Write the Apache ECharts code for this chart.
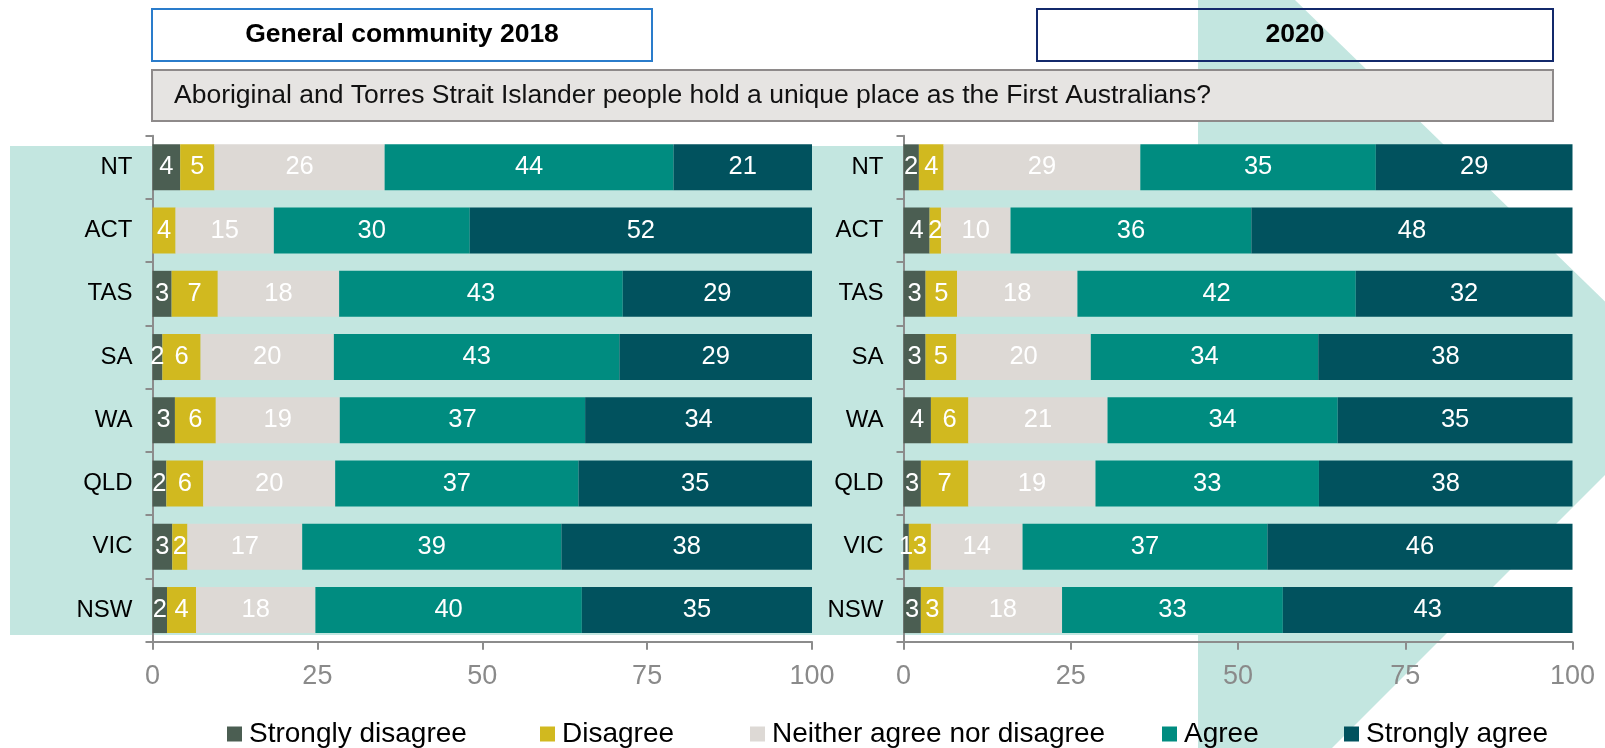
<!DOCTYPE html>
<html>
<head>
<meta charset="utf-8">
<script src="https://cdn.jsdelivr.net/npm/echarts@6/dist/echarts.min.js"></script>
<style>
html,body{margin:0;padding:0;background:#fff;}
#chart{width:1605px;height:748px;}
</style>
</head>
<body>
<div id="chart"></div>
<script>
const categories = ['NT','ACT','TAS','SA','WA','QLD','VIC','NSW'];
const seriesNames = ['Strongly disagree','Disagree','Neither agree nor disagree','Agree','Strongly agree'];
const xTicks = [0, 25, 50, 75, 100];
const panelTitles = ['General community 2018', '2020'];
const question = 'Aboriginal and Torres Strait Islander people hold a unique place as the First Australians?';

// 2018 (percent, bar widths; labels are rounded)
const stronglyDisagree2018 = [4.2, 0, 2.9, 1.5, 3.4, 2.1, 3.0, 2.2];
const disagree2018         = [5.2, 3.5, 7.0, 5.8, 6.2, 5.6, 2.3, 4.4];
const neither2018          = [25.8, 14.9, 18.4, 20.2, 18.8, 20.0, 17.4, 18.1];
const agree2018            = [43.8, 29.7, 43.0, 43.3, 37.2, 36.9, 39.3, 40.4];
const stronglyAgree2018    = [21.0, 51.9, 28.7, 29.2, 34.4, 35.4, 38.0, 34.9];

// 2020
const stronglyDisagree2020 = [2.3, 3.9, 3.3, 3.3, 4.1, 2.6, 0.8, 2.6];
const disagree2020         = [3.7, 1.7, 4.7, 4.6, 5.6, 7.1, 3.3, 3.4];
const neither2020          = [29.4, 10.4, 18.0, 20.1, 20.8, 19.0, 13.7, 17.7];
const agree2020            = [35.2, 36.0, 41.6, 34.0, 34.4, 33.4, 36.6, 33.0];
const stronglyAgree2020    = [29.4, 48.0, 32.4, 38.0, 35.1, 37.9, 45.6, 43.3];

const colors = ['#4b5e52', '#d1b91f', '#ddd9d5', '#008c80', '#01525e'];
const FONT = '"Liberation Sans", Arial, sans-serif';
const TEAL = '#c3e6e0';

const data2018 = [stronglyDisagree2018, disagree2018, neither2018, agree2018, stronglyAgree2018];
const data2020 = [stronglyDisagree2020, disagree2020, neither2020, agree2020, stronglyAgree2020];

const grids = [
  {left: 152.5, top: 135.7, width: 659.5, height: 506},
  {left: 903.5, top: 135.7, width: 669, height: 506}
];

function xAx(i){
  return {
    type: 'value', gridIndex: i, min: 0, max: 100, interval: 25,
    splitLine: {show: false},
    axisLine: {show: true, lineStyle: {color: '#8c8c8c', width: 2}},
    axisTick: {show: true, length: 8, lineStyle: {color: '#8c8c8c', width: 2}},
    axisLabel: {color: '#8a8a8a', fontSize: 27, fontFamily: FONT, margin: 21,
      formatter: v => xTicks.indexOf(v) >= 0 ? String(v) : ''}
  };
}
function yAx(i){
  return {
    type: 'category', gridIndex: i, data: categories, inverse: true,
    axisLine: {show: true, lineStyle: {color: '#8c8c8c', width: 2}},
    axisTick: {show: true, length: 7, lineStyle: {color: '#8c8c8c', width: 2}},
    axisLabel: {color: '#000', fontSize: 24, fontFamily: FONT, margin: 20}
  };
}

const series = [];
[data2018, data2020].forEach((ds, gi) => {
  ds.forEach((arr, si) => {
    series.push({
      name: seriesNames[si], type: 'bar', stack: 'g' + gi,
      xAxisIndex: gi, yAxisIndex: gi, barWidth: 46,
      itemStyle: {color: colors[si]},
      label: {show: true, position: 'inside', color: '#fff', fontSize: 25.5, fontFamily: FONT,
        formatter: p => { const r = Math.round(p.value); return r ? String(r) : ''; }},
      emphasis: {disabled: true},
      data: arr
    });
  });
});

const legendLefts = [227, 540, 750, 1162, 1344];
const legends = seriesNames.map((n, i) => ({
  data: [{name: n, icon: 'rect'}], left: legendLefts[i], top: 720, padding: 0,
  itemWidth: 15, itemHeight: 15, itemGap: 0, selectedMode: false,
  textStyle: {fontSize: 28, color: '#000', fontFamily: FONT, padding: [0,0,0,2]}
}));

const chart = echarts.init(document.getElementById('chart'));
chart.setOption({
  animation: false,
  backgroundColor: '#fff',
  color: colors,
  graphic: [
    {type: 'rect', z: -10, shape: {x: 10, y: 146, width: 1200, height: 489}, style: {fill: TEAL}},
    {type: 'polygon', z: -10, shape: {points: [[1198,0],[1295,0],[1693,387],[1332,748],[1198,748]]}, style: {fill: TEAL}},
    {type: 'rect', z: 10, shape: {x: 152, y: 9, width: 500, height: 52}, style: {fill: '#fff', stroke: '#2a7ccb', lineWidth: 2}},
    {type: 'text', z: 11, style: {x: 402, y: 35, text: panelTitles[0], fill: '#000', font: 'bold 26.5px ' + FONT, align: 'center', verticalAlign: 'middle'}},
    {type: 'rect', z: 10, shape: {x: 1037, y: 9, width: 516, height: 52}, style: {fill: 'transparent', stroke: '#13296b', lineWidth: 2}},
    {type: 'text', z: 11, style: {x: 1295, y: 35, text: panelTitles[1], fill: '#000', font: 'bold 26.5px ' + FONT, align: 'center', verticalAlign: 'middle'}},
    {type: 'rect', z: 10, shape: {x: 152, y: 70, width: 1401, height: 51}, style: {fill: '#e6e4e2', stroke: '#8e8a8a', lineWidth: 2}},
    {type: 'text', z: 11, style: {x: 174, y: 96, text: question, fill: '#111', font: '26.5px ' + FONT, align: 'left', verticalAlign: 'middle'}}
  ],
  legend: legends,
  grid: grids,
  xAxis: [xAx(0), xAx(1)],
  yAxis: [yAx(0), yAx(1)],
  series: series
});
</script>
</body>
</html>
